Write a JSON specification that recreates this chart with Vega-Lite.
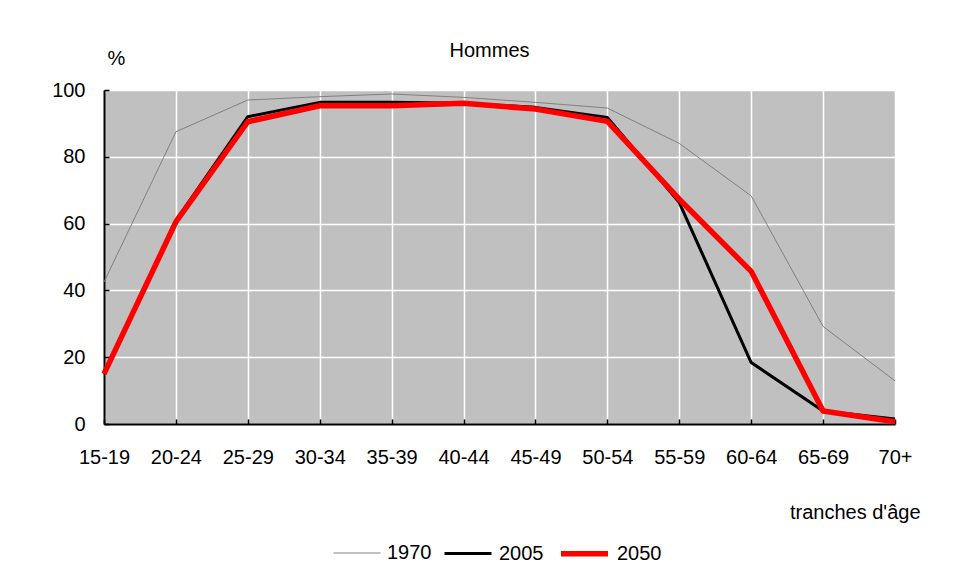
{
  "$schema": "https://vega.github.io/schema/vega-lite/v6.json",
  "autosize": "none",
  "width": 791,
  "height": 334,
  "padding": {"left": 104, "top": 90, "right": 59, "bottom": 154},
  "background": "white",
  "config": {
    "font": "Liberation Sans",
    "view": {"fill": "#C0C0C0", "stroke": null},
    "axis": {"labelFont": "Liberation Sans", "titleFont": "Liberation Sans", "labelColor": "#000", "titleColor": "#000", "labelFontSize": 20, "titleFontSize": 20, "titleFontWeight": "normal"},
    "legend": {"labelFont": "Liberation Sans", "labelFontSize": 20, "labelColor": "#000"}
  },
  "title": {"text": "Hommes", "fontSize": 20, "fontWeight": "normal", "font": "Liberation Sans", "color": "#000", "offset": -13, "dx": -10, "anchor": "middle"},
  "data": {
    "values": [
      {"age": "15-19", "year": "1970", "v": 42.5},
      {"age": "20-24", "year": "1970", "v": 87.5},
      {"age": "25-29", "year": "1970", "v": 97},
      {"age": "30-34", "year": "1970", "v": 98},
      {"age": "35-39", "year": "1970", "v": 98.8},
      {"age": "40-44", "year": "1970", "v": 97.8},
      {"age": "45-49", "year": "1970", "v": 96.3},
      {"age": "50-54", "year": "1970", "v": 94.6},
      {"age": "55-59", "year": "1970", "v": 84},
      {"age": "60-64", "year": "1970", "v": 68.3},
      {"age": "65-69", "year": "1970", "v": 29.2},
      {"age": "70+", "year": "1970", "v": 12.9},
      {"age": "15-19", "year": "2005", "v": 15},
      {"age": "20-24", "year": "2005", "v": 61},
      {"age": "25-29", "year": "2005", "v": 92},
      {"age": "30-34", "year": "2005", "v": 96.3},
      {"age": "35-39", "year": "2005", "v": 96.3},
      {"age": "40-44", "year": "2005", "v": 96},
      {"age": "45-49", "year": "2005", "v": 94.8},
      {"age": "50-54", "year": "2005", "v": 91.8},
      {"age": "55-59", "year": "2005", "v": 66.3},
      {"age": "60-64", "year": "2005", "v": 18.4},
      {"age": "65-69", "year": "2005", "v": 3.9},
      {"age": "70+", "year": "2005", "v": 1.5},
      {"age": "15-19", "year": "2050", "v": 15},
      {"age": "20-24", "year": "2050", "v": 60.5},
      {"age": "25-29", "year": "2050", "v": 90.5},
      {"age": "30-34", "year": "2050", "v": 95.3},
      {"age": "35-39", "year": "2050", "v": 95.3},
      {"age": "40-44", "year": "2050", "v": 96},
      {"age": "45-49", "year": "2050", "v": 94.3},
      {"age": "50-54", "year": "2050", "v": 90.6},
      {"age": "55-59", "year": "2050", "v": 67.3},
      {"age": "60-64", "year": "2050", "v": 45.7},
      {"age": "65-69", "year": "2050", "v": 3.9},
      {"age": "70+", "year": "2050", "v": 0.7}
    ]
  },
  "mark": {"type": "line", "strokeJoin": "round", "strokeCap": "butt"},
  "encoding": {
    "x": {
      "field": "age", "type": "ordinal",
      "sort": ["15-19","20-24","25-29","30-34","35-39","40-44","45-49","50-54","55-59","60-64","65-69","70+"],
      "scale": {"type": "point", "padding": 0},
      "axis": {
        "title": "tranches d'âge", "titleAlign": "right", "titleAnchor": null, "titleX": 816, "titleY": 94, "titleBaseline": "alphabetic", "titleLimit": 300,
        "labelAngle": 0, "labelPadding": 28, "tickSize": -5, "tickColor": "#000", "tickWidth": 1.5,
        "domainColor": "#000", "domainWidth": 2,
        "grid": true, "gridColor": "#FFFFFF", "gridWidth": 1.5, "gridOpacity": 1
      }
    },
    "y": {
      "field": "v", "type": "quantitative",
      "scale": {"domain": [0, 100], "nice": false},
      "axis": {
        "title": "%", "titleAngle": 0, "titleAlign": "center", "titleAnchor": null, "titleBaseline": "middle", "titleX": 12, "titleY": -32,
        "values": [0, 20, 40, 60, 80, 100], "labelPadding": 24, "tickSize": -5, "tickColor": "#000", "tickWidth": 1.5,
        "domainColor": "#000", "domainWidth": 2,
        "grid": true, "gridColor": "#FFFFFF", "gridWidth": 1.5, "gridOpacity": 1
      }
    },
    "color": {
      "field": "year", "type": "ordinal",
      "scale": {"domain": ["1970", "2005", "2050"], "range": ["#808080", "#000000", "#FF0000"]},
      "legend": {"title": null, "orient": "none", "direction": "horizontal", "legendX": 229, "legendY": 437, "symbolType": "stroke", "symbolSize": 2209, "labelOffset": 6, "columnPadding": 6, "padding": 0}
    },
    "strokeWidth": {
      "field": "year", "type": "ordinal",
      "scale": {"type": "ordinal", "domain": ["1970", "2005", "2050"], "range": [1, 3, 5.5]},
      "legend": {"title": null, "orient": "none", "direction": "horizontal", "legendX": 229, "legendY": 437, "symbolType": "stroke", "symbolSize": 2209, "labelOffset": 6, "columnPadding": 6, "padding": 0}
    }
  }
}
